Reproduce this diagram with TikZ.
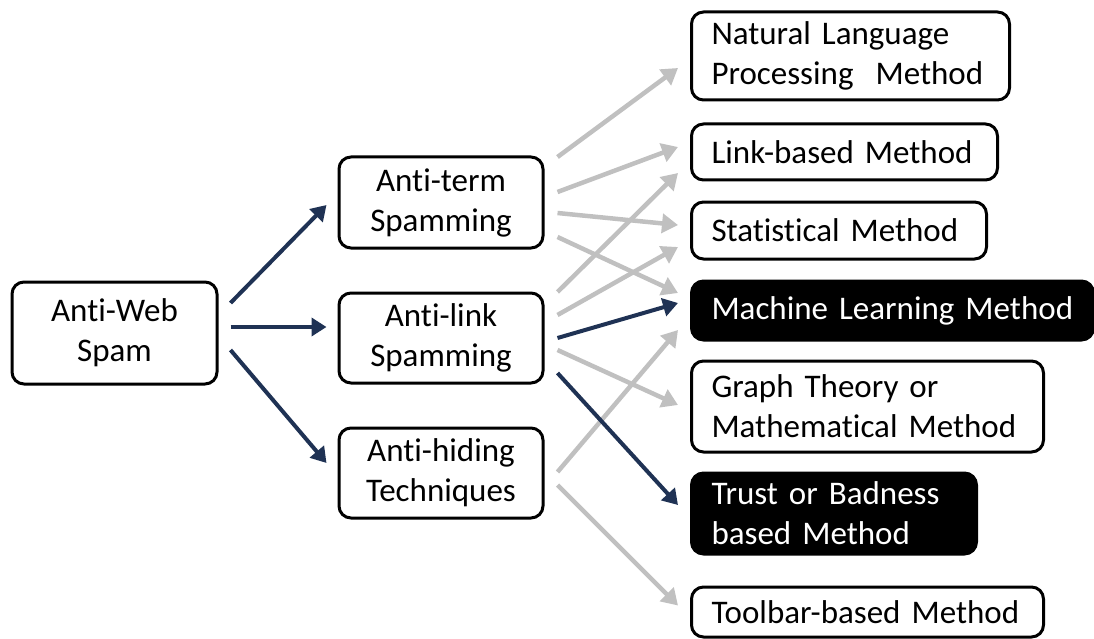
\documentclass[tikz,border=0pt]{standalone}
\usepackage{fontspec}
\setmainfont{Carlito}[Ligatures=NoCommon]
\usetikzlibrary{arrows.meta,calc}
\definecolor{navy}{RGB}{31,50,84}
\definecolor{lgray}{RGB}{192,192,192}
\begin{document}
\begin{tikzpicture}[x=1pt,y=-1pt,
  box/.style={draw=black,line width=3pt,rounded corners=12pt,fill=white,inner sep=0pt,
    font=\fontsize{33}{40}\selectfont,align=center},
  lbox/.style={box,anchor=west,inner xsep=20pt,align=left,text width=#1},
  dbox/.style={lbox=#1,fill=black,text=white},
  navyarr/.style={draw=navy,line width=4pt,-{Triangle[length=15pt,width=18pt]}},
  grayarr/.style={draw=lgray,line width=4.5pt,-{Triangle[length=16pt,width=19pt]}}]
\useasboundingbox (0,0) rectangle (1094,639);
% left and middle
\node[box,minimum width=205pt,minimum height=102pt] (web) at (114.5,333) {Anti-Web\\Spam};
\node[box,minimum width=204pt,minimum height=91pt] (term) at (441,202.5) {Anti-term\\Spamming};
\node[box,minimum width=204pt,minimum height=90pt] (link) at (441,338) {Anti-link\\Spamming};
\node[box,minimum width=204pt,minimum height=90pt] (hide) at (441,473) {Anti-hiding\\Techniques};
% right
\node[lbox=278pt,minimum height=88pt] (nlp) at (690,56) {Natural Language\\Processing\ \ Method};
\node[lbox=266pt,minimum height=56pt] (lb) at (690,152) {Link-based Method};
\node[lbox=255pt,minimum height=57pt] (stat) at (690,230.5) {Statistical Method};
\node[dbox=362pt,minimum height=59pt] (ml) at (690,310.5) {Machine Learning Method};
\node[lbox=312pt,minimum height=91pt] (graph) at (690,406.5) {Graph Theory or\\Mathematical Method};
\node[dbox=245pt,minimum height=81pt] (trust) at (690,513.5) {Trust or Badness\\based Method};
\node[lbox=312pt,minimum height=50pt] (tool) at (690,612) {Toolbar-based Method};
% gray arrows
\draw[grayarr] ($(term.east)+(13,-45.5)$) -- ($(nlp.west)+(-12,12)$);
\draw[grayarr] ($(term.east)+(13,-10.5)$) -- ($(lb.west)+(-12,-5)$);
\draw[grayarr] ($(term.east)+(13,10.5)$) -- ($(stat.west)+(-12,-5.5)$);
\draw[grayarr] ($(term.east)+(13,34.5)$) -- ($(ml.west)+(-12,-17.5)$);
\draw[grayarr] ($(link.east)+(13,-46)$) -- ($(lb.west)+(-12,21)$);
\draw[grayarr] ($(link.east)+(13,-23)$) -- ($(stat.west)+(-12,16.5)$);
\draw[grayarr] ($(link.east)+(13,12)$) -- ($(graph.west)+(-12,-1.5)$);
\draw[grayarr] ($(hide.east)+(13,-1)$) -- ($(ml.west)+(-12,19.5)$);
\draw[grayarr] ($(hide.east)+(13,12)$) -- ($(tool.west)+(-12,-6.5)$);
% navy arrows
\draw[navyarr] ($(web.east)+(12,-30)$) -- ($(term.west)+(-11,2.5)$);
\draw[navyarr] ($(web.east)+(12,-6)$) -- ($(link.west)+(-11,-11)$);
\draw[navyarr] ($(web.east)+(12,17)$) -- ($(hide.west)+(-11,-10)$);
\draw[navyarr] ($(link.east)+(13,0)$) -- ($(ml.west)+(-12,-7.5)$);
\draw[navyarr] ($(link.east)+(13,35)$) -- ($(trust.west)+(-12,-8.5)$);
\end{tikzpicture}
\end{document}
